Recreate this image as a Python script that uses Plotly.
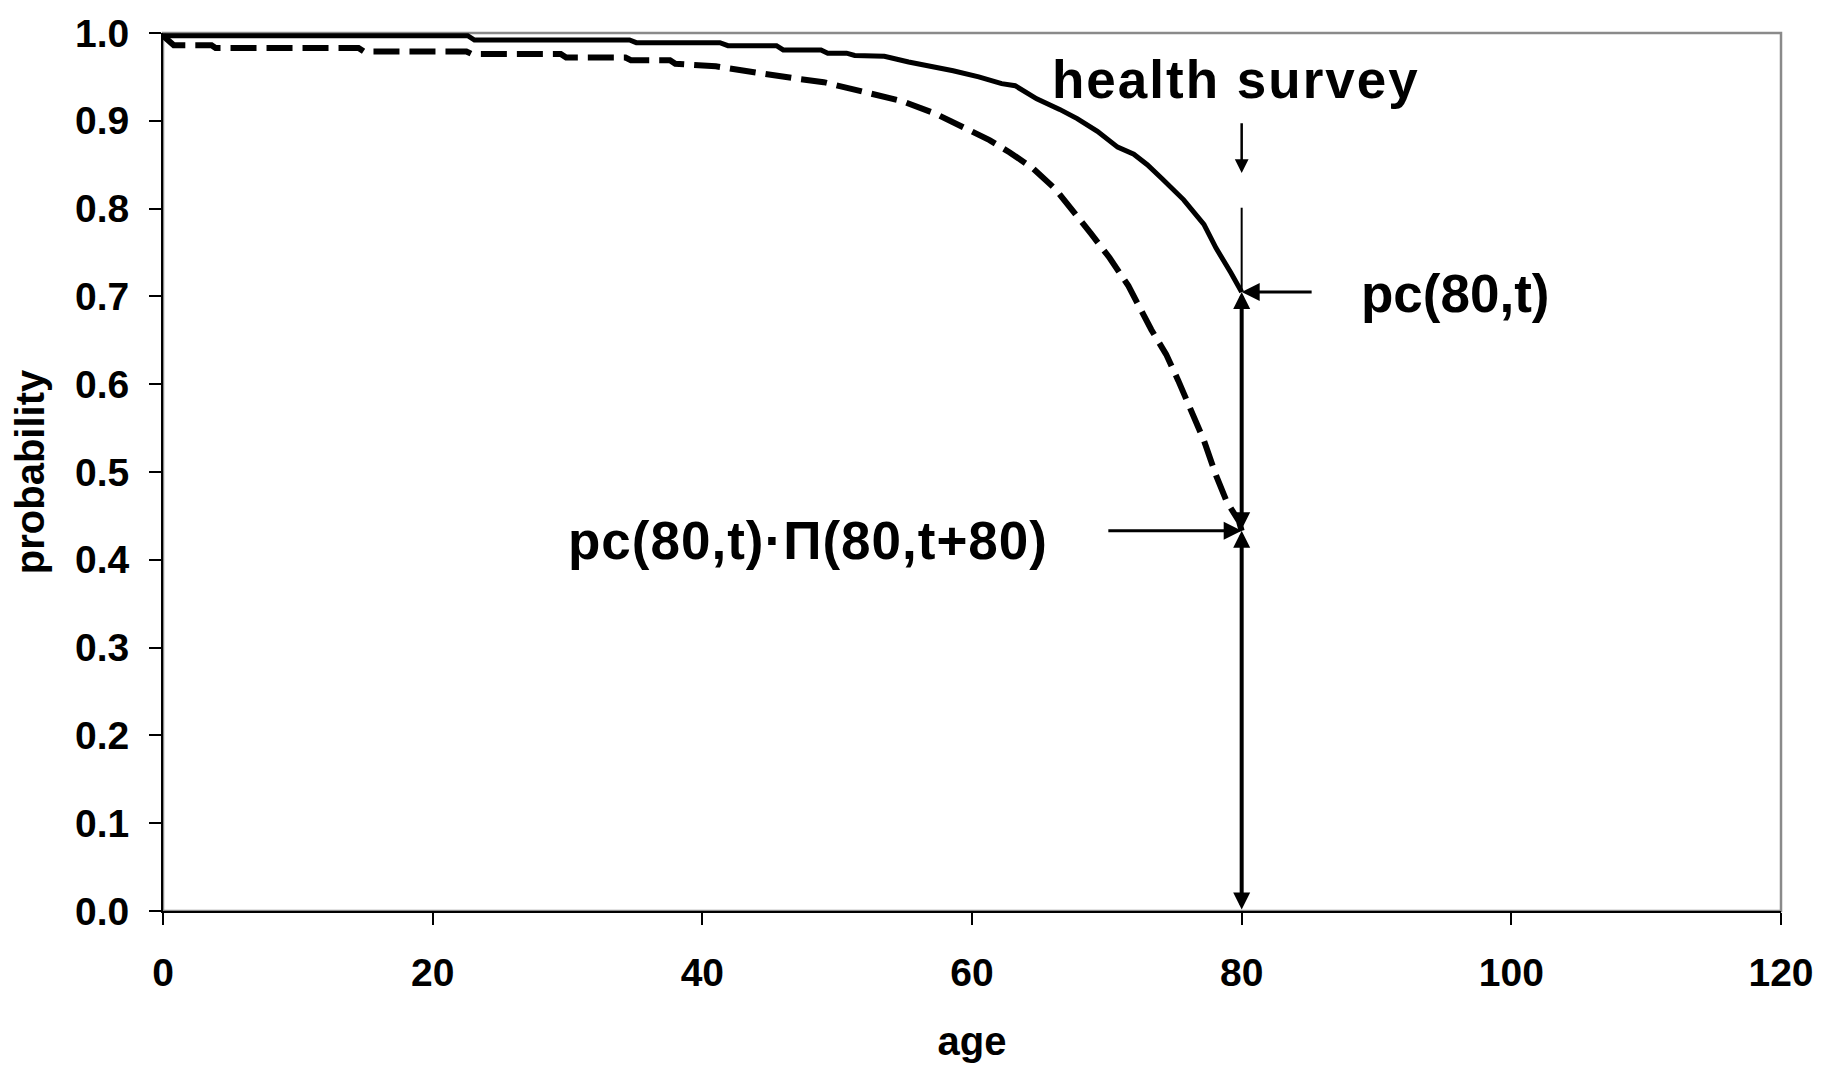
import plotly.graph_objects as go

# ---- data ----
age_pc = [0, 22.6, 23.1, 34.6, 35.1, 41.3, 41.9, 45.5, 46.0, 48.8, 49.3, 50.7, 51.3,
          53.5, 55.3, 57.0, 58.6, 60.5, 62.2, 63.2, 64.8, 66.5, 67.8, 69.3, 70.8,
          72.0, 73.0, 74.1, 75.7, 77.2, 78.1, 79.2, 80.0]
p_pc = [0.997, 0.997, 0.992, 0.992, 0.989, 0.989, 0.9856, 0.9856, 0.9807, 0.9807, 0.977,
        0.977, 0.9744, 0.9735, 0.967, 0.962, 0.957, 0.950, 0.9423, 0.940, 0.925, 0.913,
        0.9025, 0.888, 0.8700, 0.862, 0.850, 0.834, 0.810, 0.782, 0.755, 0.727, 0.705]

age_prod = [0, 0.8, 3.6, 3.9, 14.5, 14.9, 22.5, 22.9, 29.5, 29.9, 34.3, 34.7, 37.6, 38.0,
            41.0, 43.7, 47.0, 49.0, 51.0, 53.0, 54.9, 57.3, 59.6, 61.3, 62.8, 64.5, 66.2,
            67.5, 68.8, 70.2, 71.6, 73.3, 74.4, 75.3, 76.4, 77.2, 78.1, 78.9, 79.8, 80.0]
p_prod = [0.997, 0.986, 0.986, 0.983, 0.983, 0.979, 0.979, 0.976, 0.976, 0.972, 0.972,
          0.969, 0.969, 0.965, 0.962, 0.955, 0.948, 0.944, 0.937, 0.930, 0.922, 0.908,
          0.891, 0.878, 0.864, 0.846, 0.822, 0.798, 0.772, 0.744, 0.712, 0.662, 0.634,
          0.604, 0.566, 0.536, 0.496, 0.466, 0.444, 0.433]

survey_age = 80
pc_at_survey = 0.705
prod_at_survey = 0.433

x_ticks = [0, 20, 40, 60, 80, 100, 120]
y_ticks = [0.0, 0.1, 0.2, 0.3, 0.4, 0.5, 0.6, 0.7, 0.8, 0.9, 1.0]

FONT = "Liberation Sans, Arial, sans-serif"

fig = go.Figure()
fig.add_trace(go.Scatter(x=age_pc, y=p_pc, mode="lines",
                         line=dict(color="black", width=5),
                         cliponaxis=False, hoverinfo="skip", showlegend=False))
fig.add_trace(go.Scatter(x=age_prod, y=p_prod, mode="lines",
                         line=dict(color="black", width=6, dash="26px,10px"),
                         cliponaxis=False, hoverinfo="skip", showlegend=False))

# grey frame (top / right)
fig.add_shape(type="rect", xref="x domain", yref="y domain", x0=0, x1=1, y0=0, y1=1,
              line=dict(color="#8a8a8a", width=2.5), layer="below")
# thin vertical line above pc point
fig.add_shape(type="line", xref="x", yref="y", x0=survey_age, x1=survey_age,
              y0=0.801, y1=pc_at_survey, line=dict(color="black", width=2))

arrow_common = dict(xref="x", yref="y", axref="x", ayref="y", text="", showarrow=True,
                    arrowcolor="black")
# health survey down arrow
fig.add_annotation(x=survey_age, y=0.8405, ax=survey_age, ay=0.899,
                   arrowhead=2, arrowsize=1.1, arrowwidth=2.5, **arrow_common)
# double arrow pc -> product
fig.add_annotation(x=survey_age, y=pc_at_survey, ax=survey_age, ay=prod_at_survey,
                   arrowhead=2, startarrowhead=2, arrowside="end+start",
                   arrowsize=0.85, startarrowsize=0.85, arrowwidth=4, **arrow_common)
# double arrow product -> 0
fig.add_annotation(x=survey_age, y=prod_at_survey, ax=survey_age, ay=0.0,
                   arrowhead=2, startarrowhead=2, arrowside="end+start",
                   arrowsize=0.85, startarrowsize=0.85, arrowwidth=4, **arrow_common)
# pointer to pc(80,t)
fig.add_annotation(x=survey_age, y=pc_at_survey, ax=85.3, ay=pc_at_survey,
                   arrowhead=2, arrowsize=1.2, arrowwidth=3, **arrow_common)
# pointer to product
fig.add_annotation(x=survey_age, y=prod_at_survey, ax=70.0, ay=prod_at_survey,
                   arrowhead=2, arrowsize=1.2, arrowwidth=3, **arrow_common)

label_font = dict(family=FONT, size=53, color="black", weight="bold")
fig.add_annotation(x=79.6, y=0.947, xref="x", yref="y", showarrow=False,
                   text='<span style="letter-spacing:2px">health survey</span>',
                   font=label_font, xanchor="center", yanchor="middle")
fig.add_annotation(x=95.85, y=0.703, xref="x", yref="y", showarrow=False,
                   text="pc(80,t)", font=label_font, xanchor="center", yanchor="middle")
fig.add_annotation(x=47.8, y=0.422, xref="x", yref="y", showarrow=False,
                   text='<span style="letter-spacing:1px">pc(80,t)·Π(80,t+80)</span>',
                   font=label_font, xanchor="center", yanchor="middle")

tick_font = dict(family=FONT, size=39, color="black", weight="bold")
title_font = dict(family=FONT, size=40, color="black", weight="bold")

fig.update_layout(
    width=1826, height=1068,
    margin=dict(l=163, r=38, t=26, b=154),
    paper_bgcolor="white", plot_bgcolor="white",
    showlegend=False,
    xaxis=dict(range=[0, 120], tickvals=x_ticks, ticktext=[str(v) for v in x_ticks],
               showgrid=False, zeroline=False, showline=True, linecolor="black",
               linewidth=2, ticks="outside", ticklen=12, tickwidth=1.5,
               tickcolor="black", tickfont=tick_font, ticklabelstandoff=14,
               title=dict(text="age", font=title_font, standoff=34)),
    yaxis=dict(range=[0, 1], tickvals=y_ticks, ticktext=[f"{v:.1f}" for v in y_ticks],
               showgrid=False, zeroline=False, showline=True, linecolor="black",
               linewidth=2, ticks="outside", ticklen=12, tickwidth=1.5,
               tickcolor="black", tickfont=tick_font, ticklabelstandoff=12,
               title=dict(text="probability", font=title_font, standoff=18)),
)

fig.write_html("out.html")
